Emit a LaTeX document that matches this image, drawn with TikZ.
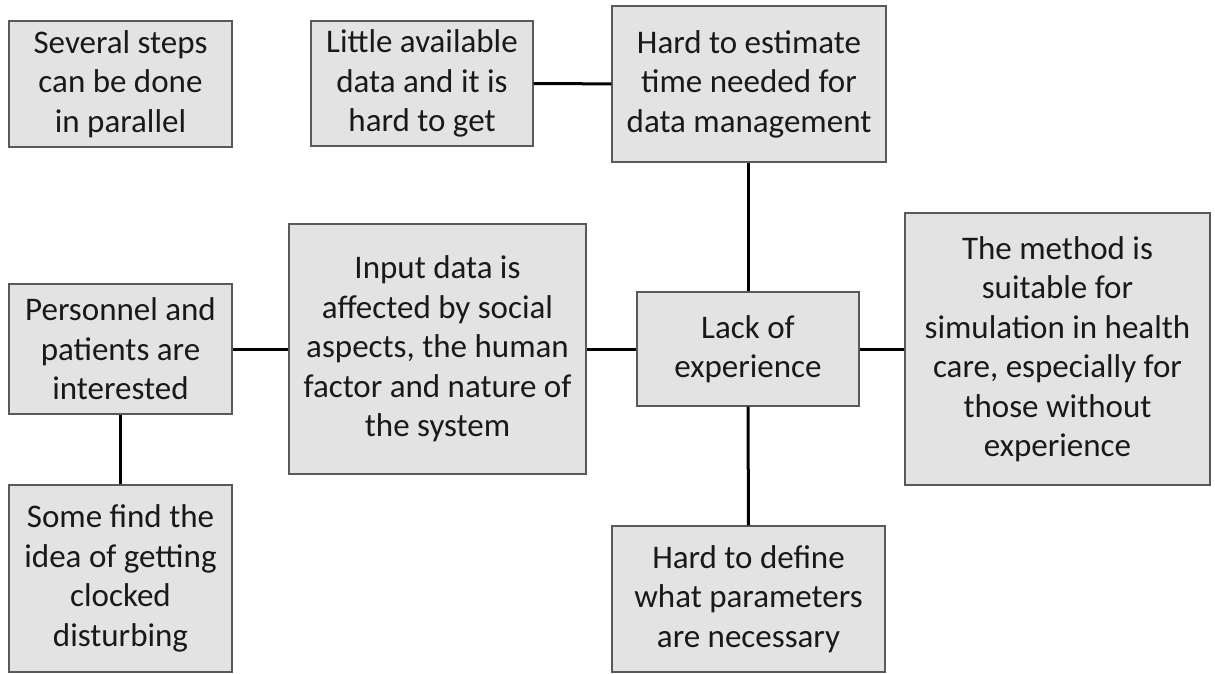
\documentclass[tikz,border=0pt]{standalone}
\usepackage{fontspec}
\setmainfont{Carlito}
\begin{document}
\begin{tikzpicture}[x=1pt,y=-1pt,
  box/.style={draw=black!65, line width=1.2pt, fill=black!11, align=center,
    inner sep=0pt, text=black!90, font=\fontsize{33}{39.5}\selectfont},
  link/.style={line width=3pt, black}]
\useasboundingbox (0,0) rectangle (1215,673);
\node[box, minimum width=223pt, minimum height=126pt] (several) at (120.5,84)
  {Several steps\\can be done\\in parallel};
\node[box, minimum width=222pt, minimum height=125pt] (little) at (422,83.5)
  {Little available\\data and it is\\hard to get};
\node[box, minimum width=274pt, minimum height=156pt] (estimate) at (749,84)
  {Hard to estimate\\time needed for\\data management};
\node[box, minimum width=223pt, minimum height=130pt] (personnel) at (120.5,349)
  {Personnel and\\patients are\\interested};
\node[box, minimum width=297pt, minimum height=250pt] (input) at (437.5,349)
  {Input data is\\affected by social\\aspects, the human\\factor and nature of\\the system};
\node[box, minimum width=222pt, minimum height=114pt] (lack) at (748,349)
  {Lack of\\experience};
\node[box, minimum width=305pt, minimum height=272pt] (method) at (1057.5,349)
  {The method is\\suitable for\\simulation in health\\care, especially for\\those without\\experience};
\node[box, minimum width=223pt, minimum height=187pt] (somefind) at (120.5,578.5)
  {Some find the\\idea of getting\\clocked\\disturbing};
\node[box, minimum width=273pt, minimum height=146pt] (define) at (748.5,599)
  {Hard to define\\what parameters\\are necessary};
\draw[link] (little) -- (estimate);
\draw[link] (estimate.south -| lack.north) -- (lack.north);
\draw[link] (personnel) -- (input);
\draw[link] (input) -- (lack);
\draw[link] (lack) -- (method);
\draw[link] (personnel) -- (somefind);
\draw[link] (lack) -- (define);
\end{tikzpicture}
\end{document}
